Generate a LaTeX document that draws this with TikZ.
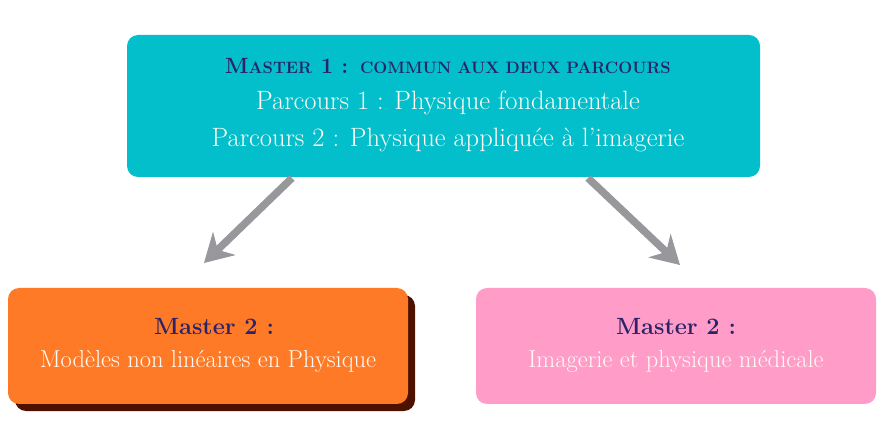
\documentclass[tikz,border=0pt]{standalone}
\usepackage{fontspec}
\setmainfont{Latin Modern Roman}
\usetikzlibrary{arrows.meta}
\definecolor{cyanbox}{HTML}{02BFCB}
\definecolor{orangebox}{HTML}{FF7A26}
\definecolor{pinkbox}{HTML}{FF9CC8}
\definecolor{shadowc}{HTML}{4D1100}
\definecolor{arrowc}{HTML}{97979C}
\definecolor{navy}{HTML}{2A2367}
\definecolor{cream}{HTML}{FFFBF5}
\newcommand{\bigM}[1]{{\fontsize{22}{28}\selectfont #1}}
\newcommand{\smallC}[1]{{\fontsize{16.5}{28}\selectfont #1}}
\begin{document}
\begin{tikzpicture}[x=1pt,y=-1pt,
  box/.style={rounded corners=11pt, inner sep=0pt},
  conn/.style={draw=arrowc, line width=7.5pt, -{Stealth[length=28pt,width=32pt,inset=9pt]}},
  wtext/.style={text=cream, font=\fontsize{26.5}{30}\selectfont, align=center},
  btext/.style={text=cream, font=\fontsize{24.5}{30}\selectfont, align=center},
  ttext/.style={text=navy, font=\bfseries\fontsize{23.5}{30}\selectfont, align=center}]
\useasboundingbox (0,0) rectangle (884,438);
% top box
\fill[cyanbox, box] (127,35) rectangle (760,177);
\node[ttext] (t1) at (448,66) {\bigM{M}\smallC{ASTER} \bigM{1 :} \smallC{COMMUN AUX DEUX PARCOURS}};
\node[wtext] (t2) at (448,103) {Parcours 1 : Physique fondamentale};
\node[wtext] (t3) at (448,140) {Parcours 2 : Physique appliquée à l’imagerie};
% left box with shadow
\fill[shadowc, box] (15,295) rectangle (415,411);
\fill[orangebox, box] (8,288) rectangle (408,404);
\node[ttext] (l1) at (214,327) {Master 2 :};
\node[btext] (l2) at (208,361) {Modèles non linéaires en Physique};
% right box
\fill[pinkbox, box] (476,288) rectangle (876,404);
\node[ttext] (r1) at (676,327) {Master 2 :};
\node[btext] (r2) at (676,361) {Imagerie et physique médicale};
% connectors
\coordinate (la) at (292,178);
\coordinate (lb) at (204,263);
\coordinate (ra) at (588,178);
\coordinate (rb) at (680,265);
\draw[conn] (la) -- (lb);
\draw[conn] (ra) -- (rb);
\end{tikzpicture}
\end{document}
